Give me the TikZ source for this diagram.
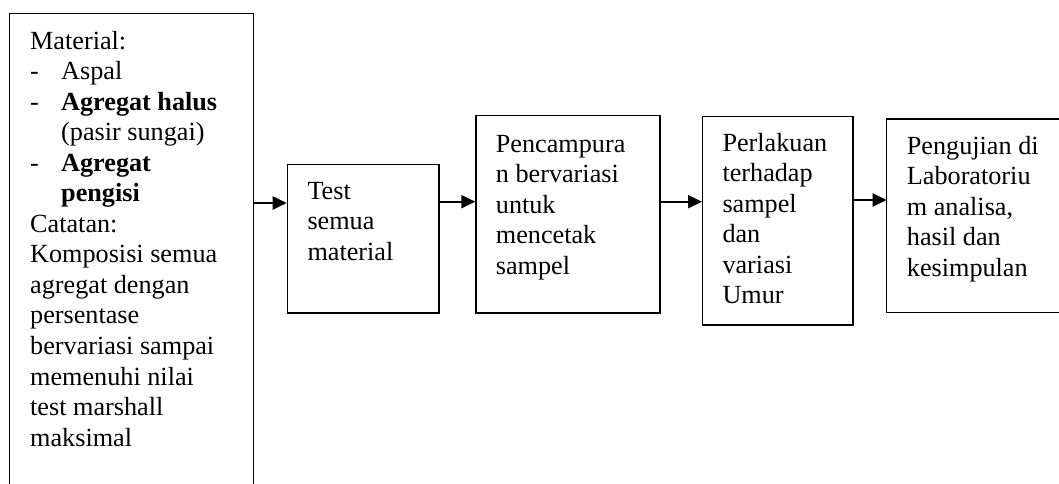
\documentclass[tikz,border=0pt]{standalone}
\usepackage{fontspec}
\setmainfont{Liberation Serif}
\usetikzlibrary{arrows.meta}
\begin{document}
\begin{tikzpicture}[x=1pt,y=-1pt,
  boxstyle/.style={draw=black,line width=1.2pt,inner sep=0pt,anchor=north west},
  txt/.style={inner sep=0pt,anchor=base west,font=\fontsize{26.2}{30.5}\selectfont},
  flow/.style={line width=2pt,-{Triangle[length=14pt,width=13pt]}}]
\useasboundingbox (0,0) rectangle (1059,484);
% left box (open at bottom, cut by the page edge)
\draw[line width=1.2pt] (9.5,490) -- (9.5,13.3) -- (253.3,13.3) -- (253.3,490);
\coordinate (b1e) at (253.3,203);
\node[txt] (t1) at (30,49.5) {\vtop{%
  \hbox{Material:}
  \hbox{\makebox[31pt][l]{-}Aspal}
  \hbox{\makebox[31pt][l]{-}\textbf{Agregat halus}}
  \hbox{\hspace*{31pt}(pasir sungai)}
  \hbox{\makebox[31pt][l]{-}\textbf{Agregat}}
  \hbox{\hspace*{31pt}\textbf{pengisi}}
  \hbox{Catatan:}
  \hbox{Komposisi semua}
  \hbox{agregat dengan}
  \hbox{persentase}
  \hbox{bervariasi sampai}
  \hbox{memenuhi nilai}
  \hbox{test marshall}
  \hbox{maksimal}}};
% box 2
\node[boxstyle,minimum width=151.6pt,minimum height=148.3pt] (b2) at (286.7,164) {};
\node[txt] (t2) at (307.3,199) {\vtop{\hbox{Test}\hbox{semua}\hbox{material}}};
% box 3
\node[boxstyle,minimum width=184pt,minimum height=197.3pt] (b3) at (475.3,115) {};
\node[txt] (t3) at (495.7,152) {\vtop{\hbox{Pencampura}\hbox{n bervariasi}\hbox{untuk}\hbox{mencetak}\hbox{sampel}}};
% box 4
\node[boxstyle,minimum width=150.3pt,minimum height=208.3pt] (b4) at (702,116) {};
\node[txt] (t4) at (722.3,151) {\vtop{\hbox{Perlakuan}\hbox{terhadap}\hbox{sampel}\hbox{dan}\hbox{variasi}\hbox{Umur}}};
% box 5 (cut by the right page edge)
\draw[line width=1.2pt] (1065,119) -- (886.7,119) -- (886.7,312.3) -- (1065,312.3);
\coordinate (b5w) at (886.7,200);
\node[txt] (t5) at (906.7,154) {\vtop{\hbox{Pengujian di}\hbox{Laboratoriu}\hbox{m analisa,}\hbox{hasil dan}\hbox{kesimpulan}}};
% arrows
\draw[flow] (b1e) -- (b1e -| b2.west);
\draw[flow] (b2.east |- 0,201.7) -- (b3.west |- 0,201.7);
\draw[flow] (b3.east |- 0,201.7) -- (b4.west |- 0,201.7);
\draw[flow] (b4.east |- b5w) -- (b5w);
\end{tikzpicture}
\end{document}
